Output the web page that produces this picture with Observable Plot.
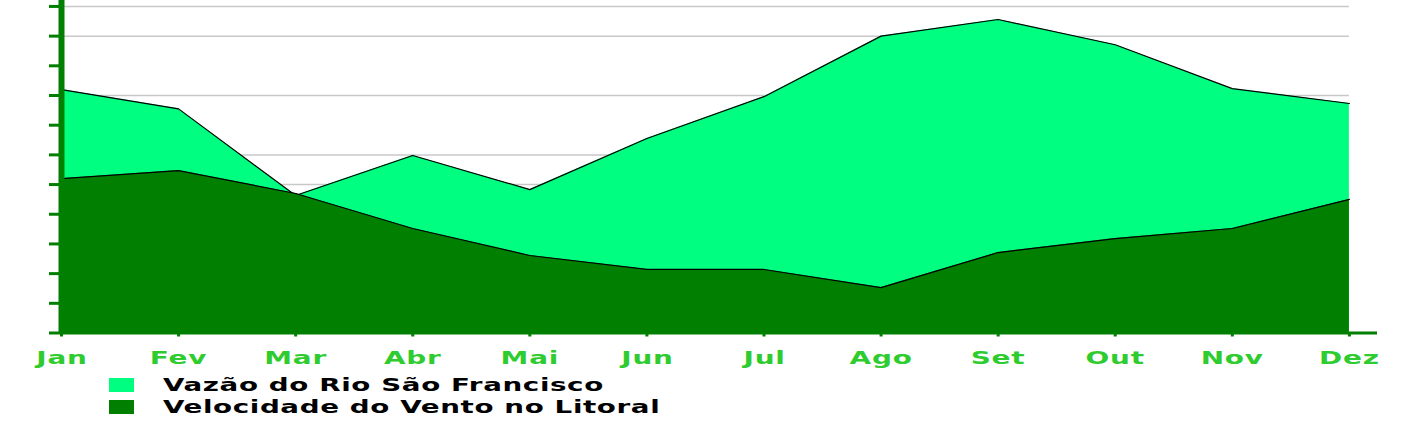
<!DOCTYPE html>
<html>
<head>
<meta charset="utf-8">
<script src="https://cdn.jsdelivr.net/npm/d3@7"></script>
<script src="https://cdn.jsdelivr.net/npm/@observablehq/plot@0.6"></script>
<style>
  html, body { margin: 0; padding: 0; background: #ffffff; }
  #wrap { width: 1416px; height: 423px; position: relative; overflow: hidden; }
  #legend { margin-left: 109px; margin-top: 4px; font-family: "DejaVu Sans", sans-serif; font-weight: bold; font-size: 18px; color: #000; }
  .row { height: 22px; line-height: 22px; display: flex; align-items: center; }
  .sw { width: 25px; height: 14px; display: inline-block; margin-right: 29px; }
  .lbl { display: inline-block; transform: scaleX(1.54); transform-origin: left center; letter-spacing: 0.4px; white-space: nowrap; }
</style>
</head>
<body>
<div id="wrap"></div>
<script>
const months = ["Jan","Fev","Mar","Abr","Mai","Jun","Jul","Ago","Set","Out","Nov","Dez"];
const vazao  = [8.2, 7.55, 4.63, 5.98, 4.83, 6.55, 7.96, 10.0, 10.56, 9.71, 8.23, 7.73];
const vento  = [5.2, 5.47, 4.7, 3.52, 2.61, 2.14, 2.14, 1.53, 2.71, 3.18, 3.52, 4.5];
const yTicks = [0,1,2,3,4,5,6,7,8,9,10,11];
const gridValues = [5,6,8,10,11];
const seriesNames = ["Vazão do Rio São Francisco", "Velocidade do Vento no Litoral"];
const seriesColors = ["#00ff80", "#007f00"];

const data = months.map((m, i) => ({i, m, vazao: vazao[i], vento: vento[i]}));
const idx = months.map((m, i) => i);
const axisGreen = "#007f00";
const labelGreen = "#2ecc2e";

const chart = Plot.plot({
  width: 1416,
  height: 370,
  marginLeft: 61,
  marginRight: 39,
  marginTop: 0,
  marginBottom: 37.5,
  style: {background: "transparent", fontFamily: "DejaVu Sans, sans-serif"},
  x: {type: "linear", domain: [0, 11.24], axis: null, label: null},
  y: {domain: [0, 11.2], axis: null, label: null},
  marks: [
    Plot.ruleY(gridValues, {x1: 0, x2: months.length - 1, stroke: "#c8c8c8", strokeWidth: 1.5}),
    Plot.areaY(data, {x: "i", y: "vazao", fill: seriesColors[0]}),
    Plot.lineY(data, {x: "i", y: "vazao", stroke: "#000", strokeWidth: 1.2}),
    Plot.areaY(data, {x: "i", y: "vento", fill: seriesColors[1]}),
    Plot.lineY(data, {x: "i", y: "vento", stroke: "#000", strokeWidth: 1.2}),
    Plot.axisY({ticks: yTicks, tickSize: 12, tickFormat: () => "", color: axisGreen, strokeWidth: 3, anchor: "left", label: null}),
    Plot.ruleX([0], {stroke: axisGreen, strokeWidth: 6}),
    Plot.ruleY([0], {stroke: axisGreen, strokeWidth: 3}),
    Plot.axisX({ticks: idx, tickSize: 4, tickFormat: () => "", color: axisGreen, strokeWidth: 3, anchor: "bottom", label: null}),
    Plot.axisX({ticks: idx, tickSize: 0, tickPadding: 18, tickFormat: i => months[i], color: labelGreen, fontSize: 18, fontWeight: "bold", anchor: "bottom", label: null})
  ]
});

const wrap = document.getElementById("wrap");
wrap.appendChild(chart);

// stretch the month labels horizontally around their own centre, as in the original
chart.querySelectorAll("text").forEach(t => {
  if (!months.includes(t.textContent)) return;
  const bb = t.getBBox();
  const cx = bb.x + bb.width / 2;
  const tr = t.getAttribute("transform") || "";
  t.setAttribute("transform", `${tr} translate(${cx},0) scale(1.55,1) translate(${-cx},0)`);
  t.setAttribute("letter-spacing", "0.5");
});

const legend = document.createElement("div");
legend.id = "legend";
seriesNames.forEach((name, k) => {
  const row = document.createElement("div");
  row.className = "row";
  const sw = document.createElement("span");
  sw.className = "sw";
  sw.style.background = seriesColors[k];
  const lbl = document.createElement("span");
  lbl.className = "lbl";
  lbl.textContent = name;
  row.appendChild(sw);
  row.appendChild(lbl);
  legend.appendChild(row);
});
wrap.appendChild(legend);
</script>
</body>
</html>
